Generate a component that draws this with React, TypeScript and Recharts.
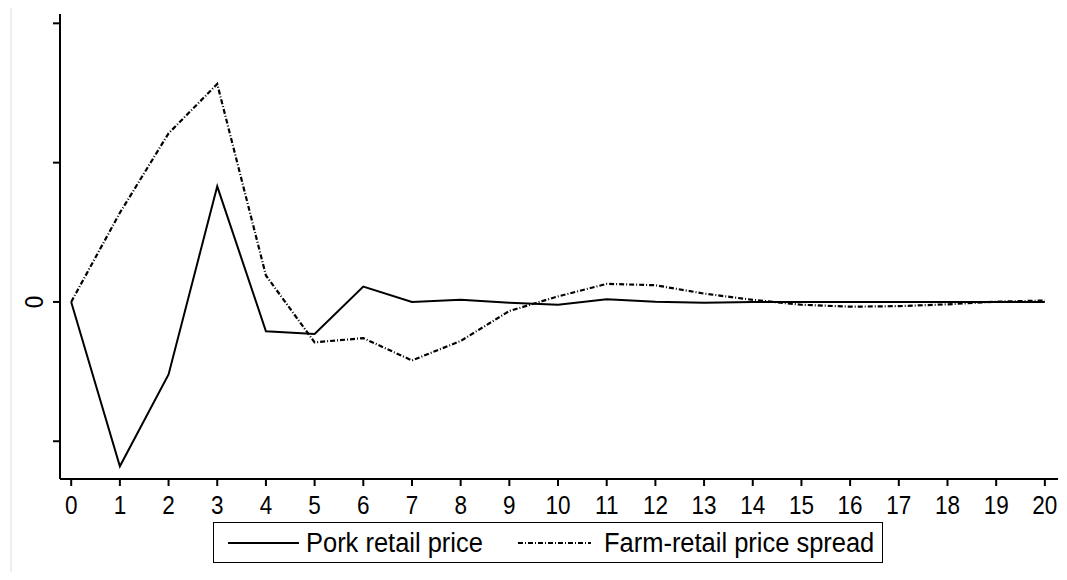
import { LineChart, Line, XAxis, YAxis } from 'recharts';

// impulse responses by period after the shock
const periods = [0, 1, 2, 3, 4, 5, 6, 7, 8, 9, 10, 11, 12, 13, 14, 15, 16, 17, 18, 19, 20];
const porkRetail = [0, -1.18, -0.52, 0.83, -0.21, -0.23, 0.11, 0, 0.015, -0.005, -0.02, 0.02, 0.002, -0.005, 0, 0, 0, 0, 0, 0, 0];
const priceSpread = [0, 0.64, 1.21, 1.565, 0.19, -0.29, -0.26, -0.42, -0.28, -0.065, 0.04, 0.13, 0.12, 0.06, 0.015, -0.02, -0.034, -0.03, -0.017, 0.002, 0.01];
const yTicks = [-1, 0, 1, 2];

const data = periods.map((p, i) => ({ period: p, pork: porkRetail[i], spread: priceSpread[i] }));

const FONT = '"Liberation Sans", Arial, sans-serif';
const DASH_DOT = '5 2 1 2';
// Helvetica-narrow look: squeeze glyphs horizontally
const SQUEEZE = 0.9;

const YTick = ({ x, y, payload }: any) => {
  if (payload.value !== 0) return <g />;
  return (
    <text
      transform={`translate(${x - 8.5}, ${y}) rotate(-90) scale(${SQUEEZE}, 1)`}
      textAnchor="middle"
      fontFamily={FONT}
      fontSize={25}
      fill="#000"
    >
      {payload.value}
    </text>
  );
};

const XTick = ({ x, y, payload }: any) => (
  <text
    transform={`translate(${x}, ${y + 26}) scale(${SQUEEZE}, 1)`}
    textAnchor="middle"
    fontFamily={FONT}
    fontSize={25}
    fill="#000"
  >
    {payload.value}
  </text>
);

const LegendText = ({ x, children }: { x: number; children: string }) => (
  <text transform={`translate(${x}, 30) scale(0.91, 1)`} fontFamily={FONT} fontSize={28} fill="#000">
    {children}
  </text>
);

export default function App() {
  return (
    <div style={{ position: 'relative', width: 1067, height: 580, margin: -8, background: '#fff', overflow: 'hidden' }}>
      <div
        style={{
          position: 'absolute',
          left: 10,
          top: 5,
          width: 1053,
          height: 600,
          border: '2px solid #e9eff3',
          boxSizing: 'border-box',
        }}
      />
      <LineChart
        width={1067}
        height={580}
        data={data}
        margin={{ top: 14, right: 9, left: 0, bottom: 0 }}
        style={{ position: 'absolute', left: 0, top: 0 }}
      >
        <XAxis
          dataKey="period"
          type="number"
          domain={[-0.23, 20.27]}
          ticks={periods}
          interval={0}
          allowDataOverflow
          height={101}
          tickSize={7}
          axisLine={{ stroke: '#000', strokeWidth: 2 }}
          tickLine={{ stroke: '#000', strokeWidth: 2 }}
          tick={<XTick />}
        />
        <YAxis
          type="number"
          domain={[-1.271, 2.067]}
          ticks={yTicks}
          allowDataOverflow
          width={60}
          tickSize={7}
          axisLine={{ stroke: '#000', strokeWidth: 2 }}
          tickLine={{ stroke: '#000', strokeWidth: 2 }}
          tick={<YTick />}
        />
        <Line
          type="linear"
          dataKey="pork"
          stroke="#000"
          strokeWidth={2}
          dot={false}
          isAnimationActive={false}
        />
        <Line
          type="linear"
          dataKey="spread"
          stroke="#000"
          strokeWidth={2.2}
          strokeDasharray={DASH_DOT}
          dot={false}
          isAnimationActive={false}
        />
      </LineChart>
      <div
        style={{
          position: 'absolute',
          left: 213,
          top: 522,
          width: 670,
          height: 41,
          border: '1px solid #000',
          boxSizing: 'border-box',
        }}
      >
        <svg width={670} height={41} style={{ position: 'absolute', left: -1, top: -1 }}>
          <line x1={15} x2={86} y1={21} y2={21} stroke="#000" strokeWidth={2} />
          <LegendText x={93}>Pork retail price</LegendText>
          <line x1={305} x2={378} y1={21} y2={21} stroke="#000" strokeWidth={2} strokeDasharray={DASH_DOT} />
          <LegendText x={391}>Farm-retail price spread</LegendText>
        </svg>
      </div>
    </div>
  );
}
